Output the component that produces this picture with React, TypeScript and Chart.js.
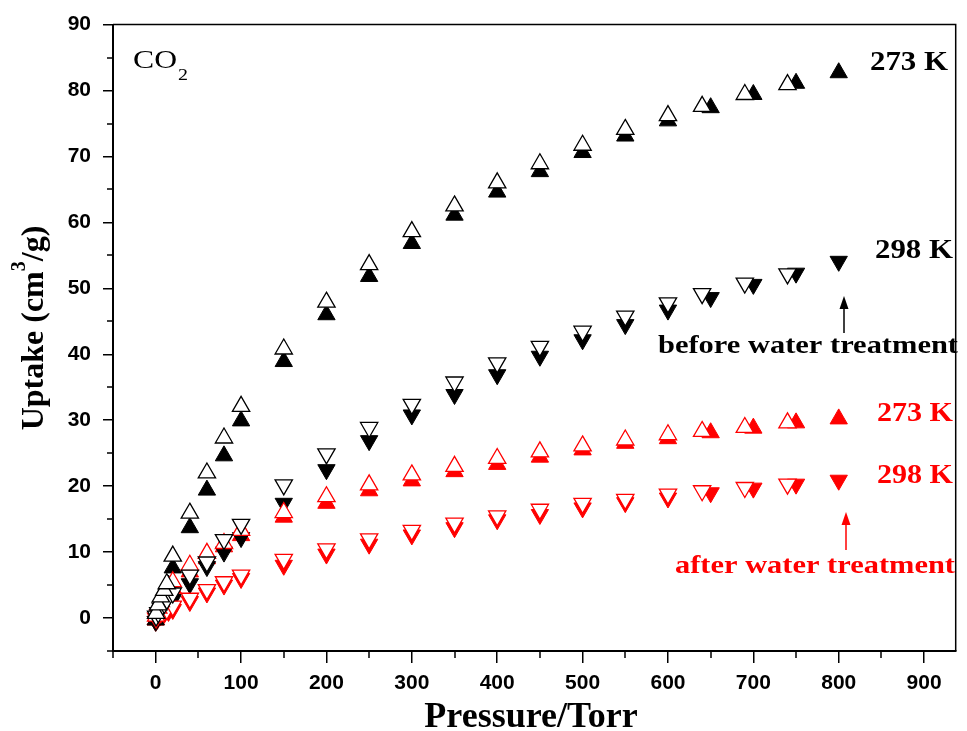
import React, { useEffect, useRef } from 'react';
import { Chart, registerables } from 'chart.js';

Chart.register(...registerables);

// ---------- data ----------
const openPressure = [0.5, 3, 6, 10, 13, 20, 40, 60, 80, 100, 150, 200, 250, 300, 350, 400, 450, 500, 550, 600, 640, 690, 740];
const filledPressure = [0, 2, 5, 10, 15, 20, 40, 60, 80, 100, 150, 200, 250, 300, 350, 400, 450, 500, 550, 600, 650, 700, 750, 800];

const before273Open = [0.7, 2.0, 3.2, 4.2, 5.2, 9.4, 15.9, 22.0, 27.3, 32.1, 40.8, 47.9, 53.6, 58.6, 62.5, 66.0, 68.9, 71.7, 74.1, 76.2, 77.6, 79.4, 80.9];
const before273Filled = [-0.3, 0.8, 2.0, 3.5, 5.0, 7.6, 13.7, 19.4, 24.6, 29.9, 38.9, 46.0, 51.8, 56.8, 61.1, 64.6, 67.7, 70.6, 73.1, 75.4, 77.4, 79.4, 81.1, 82.7];

const before298Open = [0.3, 0.8, 1.5, 2.2, 2.8, 3.8, 6.5, 8.5, 11.9, 14.2, 20.2, 24.9, 28.9, 32.4, 35.8, 38.7, 41.2, 43.5, 45.8, 47.8, 49.2, 50.8, 52.2];
const before298Filled = [-0.5, 0.2, 0.8, 1.5, 2.2, 2.8, 5.2, 7.8, 10.0, 12.2, 17.4, 22.5, 26.9, 30.8, 33.9, 36.9, 39.7, 42.2, 44.5, 46.7, 48.6, 50.6, 52.3, 54.1];

const after273Open = [0.3, 1.5, 2.5, 3.5, 4.3, 5.5, 8.0, 9.8, 11.3, 13.3, 16.0, 18.4, 20.2, 21.7, 23.0, 24.2, 25.2, 26.1, 27.0, 27.8, 28.3, 28.9, 29.6];
const after273Filled = [-0.3, 0.5, 1.5, 2.5, 3.5, 4.5, 7.0, 9.0, 10.8, 12.5, 15.3, 17.4, 19.3, 20.8, 22.2, 23.3, 24.4, 25.5, 26.5, 27.2, 28.1, 28.8, 29.6, 30.2];

const after298Open = [0.0, 0.5, 0.8, 1.0, 1.3, 1.8, 3.0, 4.3, 5.5, 6.5, 8.9, 10.5, 12.0, 13.3, 14.4, 15.5, 16.5, 17.4, 18.0, 18.8, 19.3, 19.8, 20.3];
const after298Filled = [-0.5, -0.2, 0.3, 0.7, 1.0, 1.3, 2.5, 3.8, 5.0, 6.0, 8.0, 9.7, 11.2, 12.6, 13.7, 14.9, 15.7, 16.7, 17.5, 18.2, 19.0, 19.7, 20.3, 20.9];

const xTickValues = [0, 100, 200, 300, 400, 500, 600, 700, 800, 900];
const yTickValues = [0, 10, 20, 30, 40, 50, 60, 70, 80, 90];
const xMinorTickValues = [-50, 50, 150, 250, 350, 450, 550, 650, 750, 850];
const yMinorTickValues = [-5, 5, 15, 25, 35, 45, 55, 65, 75, 85];

const xAxisTitle = 'Pressure/Torr';
const yAxisTitleMain = 'Uptake (cm';
const yAxisTitleSup = '3';
const yAxisTitleEnd = '/g)';

// ---------- styles ----------
const BLACK = '#000000';
const RED = '#ff0000';
const SERIF = '"Liberation Serif", "Times New Roman", serif';
const SANS = '"Liberation Sans", Arial, sans-serif';

function makeSet(label: string, xs: number[], ys: number[], color: string, open: boolean, down: boolean) {
  return {
    label,
    data: xs.map((x, i) => ({ x, y: ys[i] })),
    pointStyle: 'triangle',
    rotation: down ? 180 : 0,
    pointRadius: 10,
    pointHoverRadius: 10,
    backgroundColor: open ? '#ffffff' : color,
    borderColor: color,
    borderWidth: open ? 1.3 : 1,
    showLine: false,
    order: open ? 0 : 1,
  };
}

function fitText(ctx: CanvasRenderingContext2D, text: string, left: number, right: number, baseline: number, font: string, color: string) {
  ctx.save();
  ctx.font = font;
  ctx.fillStyle = color;
  ctx.textAlign = 'left';
  ctx.textBaseline = 'alphabetic';
  const w = ctx.measureText(text).width;
  ctx.translate(left, baseline);
  ctx.scale((right - left) / w, 1);
  ctx.fillText(text, 0, 0);
  ctx.restore();
}

function arrowUp(ctx: CanvasRenderingContext2D, x: number, yTip: number, yTail: number, color: string) {
  ctx.save();
  ctx.strokeStyle = color;
  ctx.fillStyle = color;
  ctx.lineWidth = 1.5;
  ctx.beginPath();
  ctx.moveTo(x, yTail);
  ctx.lineTo(x, yTip + 8);
  ctx.stroke();
  ctx.beginPath();
  ctx.moveTo(x, yTip);
  ctx.lineTo(x - 4.5, yTip + 13);
  ctx.lineTo(x + 4.5, yTip + 13);
  ctx.closePath();
  ctx.fill();
  ctx.restore();
}

const overlayPlugin = {
  id: 'overlay',
  afterDraw(chart: any) {
    const { ctx, chartArea: a, scales } = chart;
    const xs = scales.x;
    const ys = scales.y;
    ctx.save();
    // top & right frame
    ctx.strokeStyle = BLACK;
    ctx.lineWidth = 1.5;
    ctx.beginPath();
    ctx.moveTo(a.left, a.top);
    ctx.lineTo(a.right, a.top);
    ctx.lineTo(a.right, a.bottom);
    ctx.stroke();
    // minor ticks
    ctx.beginPath();
    xMinorTickValues.forEach((v) => {
      const px = Math.round(xs.getPixelForValue(v));
      ctx.moveTo(px, a.bottom);
      ctx.lineTo(px, a.bottom + 7);
    });
    yMinorTickValues.forEach((v) => {
      const py = Math.round(ys.getPixelForValue(v));
      ctx.moveTo(a.left, py);
      ctx.lineTo(a.left - 6, py);
    });
    ctx.stroke();
    ctx.restore();

    // axis titles
    ctx.save();
    ctx.fillStyle = BLACK;
    ctx.font = `bold 36px ${SERIF}`;
    ctx.textAlign = 'center';
    ctx.textBaseline = 'alphabetic';
    ctx.fillText(xAxisTitle, 531, 727);
    ctx.restore();

    ctx.save();
    ctx.fillStyle = BLACK;
    ctx.textBaseline = 'alphabetic';
    ctx.textAlign = 'left';
    const bigFont = `bold 32px ${SERIF}`;
    const supFont = `bold 20px ${SERIF}`;
    ctx.font = bigFont;
    const w1 = ctx.measureText(yAxisTitleMain).width;
    const w3 = ctx.measureText(yAxisTitleEnd).width;
    ctx.font = supFont;
    const w2 = ctx.measureText(yAxisTitleSup).width;
    const total = w1 + w2 + w3;
    ctx.translate(43, 328);
    ctx.rotate(-Math.PI / 2);
    let cx = -total / 2;
    ctx.font = bigFont;
    ctx.fillText(yAxisTitleMain, cx, 0);
    cx += w1;
    ctx.font = supFont;
    ctx.fillText(yAxisTitleSup, cx, -18);
    cx += w2;
    ctx.font = bigFont;
    ctx.fillText(yAxisTitleEnd, cx, 0);
    ctx.restore();

    // annotations
    fitText(ctx, 'CO', 133, 177, 68, `25px ${SERIF}`, BLACK);
    fitText(ctx, '2', 178, 188, 80, `17px ${SERIF}`, BLACK);
    fitText(ctx, '273 K', 870, 948, 70, `bold 27px ${SERIF}`, BLACK);
    fitText(ctx, '298 K', 875, 953, 258, `bold 27px ${SERIF}`, BLACK);
    fitText(ctx, 'before water treatment', 658, 958, 353, `bold 26px ${SERIF}`, BLACK);
    fitText(ctx, '273 K', 877, 953, 421, `bold 27px ${SERIF}`, RED);
    fitText(ctx, '298 K', 877, 953, 483, `bold 27px ${SERIF}`, RED);
    fitText(ctx, 'after water treatment', 675, 955, 573, `bold 26px ${SERIF}`, RED);
    arrowUp(ctx, 844, 296, 333, BLACK);
    arrowUp(ctx, 846, 512, 550, RED);
  },
};

export default function App() {
  const canvasRef = useRef<HTMLCanvasElement | null>(null);

  useEffect(() => {
    const canvas = canvasRef.current;
    if (!canvas) return;
    const chart = new Chart(canvas, {
      type: 'scatter',
      data: {
        datasets: [
          makeSet('273 K before (des)', openPressure, before273Open, BLACK, true, false),
          makeSet('298 K before (des)', openPressure, before298Open, BLACK, true, true),
          makeSet('273 K after (des)', openPressure, after273Open, RED, true, false),
          makeSet('298 K after (des)', openPressure, after298Open, RED, true, true),
          makeSet('273 K before', filledPressure, before273Filled, BLACK, false, false),
          makeSet('298 K before', filledPressure, before298Filled, BLACK, false, true),
          makeSet('273 K after', filledPressure, after273Filled, RED, false, false),
          makeSet('298 K after', filledPressure, after298Filled, RED, false, true),
        ] as any,
      },
      options: {
        animation: false,
        responsive: false,
        devicePixelRatio: 1,
        layout: { padding: { top: 24, right: 5, left: 0, bottom: 0 } },
        plugins: {
          legend: { display: false },
          tooltip: { enabled: false },
        },
        scales: {
          x: {
            type: 'linear',
            min: -50,
            max: 937,
            afterBuildTicks: (s: any) => {
              s.ticks = xTickValues.map((v) => ({ value: v }));
            },
            afterFit: (s: any) => {
              s.height = 80;
            },
            grid: { drawOnChartArea: false, drawTicks: true, tickLength: 12, color: BLACK, lineWidth: 1.5 },
            border: { display: true, color: BLACK, width: 2 },
            ticks: {
              color: BLACK,
              padding: 8,
              maxRotation: 0,
              autoSkip: false,
              font: { family: SANS, size: 21, weight: 'bold' },
            },
          },
          y: {
            type: 'linear',
            min: -5,
            max: 90,
            afterBuildTicks: (s: any) => {
              s.ticks = yTickValues.map((v) => ({ value: v }));
            },
            afterFit: (s: any) => {
              s.width = 113;
            },
            grid: { drawOnChartArea: false, drawTicks: true, tickLength: 10, color: BLACK, lineWidth: 1.5 },
            border: { display: true, color: BLACK, width: 2 },
            ticks: {
              color: BLACK,
              padding: 12,
              autoSkip: false,
              font: { family: SANS, size: 21, weight: 'bold' },
            },
          },
        },
      } as any,
      plugins: [overlayPlugin],
    });
    return () => chart.destroy();
  }, []);

  return (
    <div style={{ position: 'fixed', left: 0, top: 0, width: 967, height: 731, background: '#ffffff' }}>
      <canvas ref={canvasRef} width={967} height={731} style={{ display: 'block', width: 967, height: 731 }} />
    </div>
  );
}
